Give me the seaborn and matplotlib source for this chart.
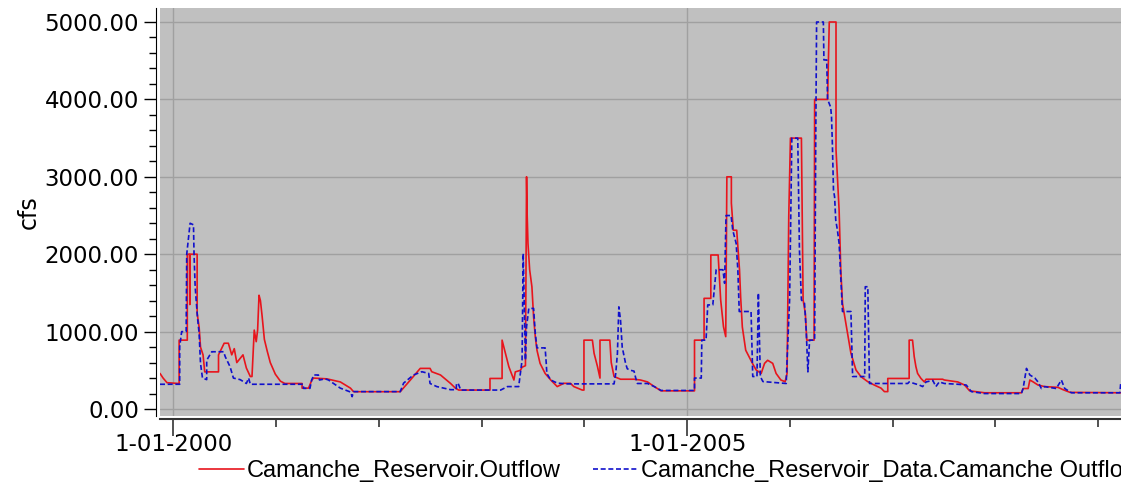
import matplotlib
matplotlib.use("Agg")
import matplotlib.pyplot as plt
import matplotlib.dates as mdates
from matplotlib.ticker import MultipleLocator, FuncFormatter
import seaborn as sns
import pandas as pd

# ---------------- data ----------------
series_names = ["Camanche_Reservoir.Outflow",
                "Camanche_Reservoir_Data.Camanche Outflow"]

red_outflow = [
    ("1999-11-15", 460), ("1999-11-26", 400), ("1999-12-10", 340), ("2000-01-22", 330),
    ("2000-01-22", 890), ("2000-02-20", 890), ("2000-02-20", 2000), ("2000-02-28", 2000),
    ("2000-02-29", 1350), ("2000-03-01", 2000), ("2000-03-26", 2000), ("2000-03-26", 1240),
    ("2000-04-02", 1060), ("2000-04-07", 800), ("2000-04-16", 700), ("2000-04-22", 480),
    ("2000-06-10", 480), ("2000-06-10", 700), ("2000-06-30", 850), ("2000-07-15", 850),
    ("2000-07-27", 700), ("2000-08-05", 780), ("2000-08-14", 600), ("2000-09-05", 700),
    ("2000-09-17", 530), ("2000-10-01", 420), ("2000-10-07", 420), ("2000-10-15", 1020),
    ("2000-10-22", 870), ("2000-10-27", 1020), ("2000-11-01", 1470), ("2000-11-06", 1400),
    ("2000-11-12", 1200), ("2000-11-20", 900), ("2000-11-30", 750), ("2000-12-11", 600),
    ("2000-12-29", 450), ("2001-01-16", 360), ("2001-02-01", 330), ("2001-04-03", 330),
    ("2001-04-03", 270), ("2001-04-26", 270), ("2001-05-08", 375), ("2001-05-14", 400),
    ("2001-06-30", 390), ("2001-08-17", 350), ("2001-09-22", 270), ("2001-10-03", 224),
    ("2002-03-18", 224), ("2002-04-23", 375), ("2002-05-28", 525), ("2002-07-02", 525),
    ("2002-07-08", 482), ("2002-08-08", 440), ("2002-09-13", 330), ("2002-09-30", 270),
    ("2002-10-12", 245), ("2003-01-31", 245), ("2003-01-31", 395), ("2003-03-15", 395),
    ("2003-03-15", 890), ("2003-03-27", 720), ("2003-04-08", 547), ("2003-04-26", 375),
    ("2003-05-01", 480), ("2003-05-19", 500), ("2003-05-25", 540), ("2003-06-06", 560),
    ("2003-06-10", 3000), ("2003-06-12", 2530), ("2003-06-15", 2140), ("2003-06-21", 1800),
    ("2003-06-29", 1580), ("2003-07-05", 1190), ("2003-07-11", 935), ("2003-07-17", 760),
    ("2003-07-28", 590), ("2003-08-15", 460), ("2003-09-04", 375), ("2003-09-27", 290),
    ("2003-10-20", 332), ("2003-11-13", 332), ("2003-11-25", 290), ("2003-12-25", 245),
    ("2003-12-31", 245), ("2003-12-31", 890), ("2004-01-30", 890), ("2004-02-05", 720),
    ("2004-02-17", 550), ("2004-02-26", 400), ("2004-02-26", 890), ("2004-04-01", 890),
    ("2004-04-06", 600), ("2004-04-16", 420), ("2004-05-09", 385), ("2004-06-26", 385),
    ("2004-07-19", 375), ("2004-08-13", 350), ("2004-09-06", 290), ("2004-09-30", 235),
    ("2005-01-27", 235), ("2005-01-27", 890), ("2005-03-02", 890), ("2005-03-02", 1430),
    ("2005-03-26", 1430), ("2005-03-26", 1990), ("2005-04-21", 1990), ("2005-04-30", 1410),
    ("2005-05-10", 1063), ("2005-05-18", 935), ("2005-05-22", 3000), ("2005-06-07", 3000),
    ("2005-06-07", 2660), ("2005-06-14", 2310), ("2005-06-26", 2310), ("2005-07-01", 2055),
    ("2005-07-06", 1796), ("2005-07-10", 1450), ("2005-07-16", 1060), ("2005-07-28", 760),
    ("2005-08-09", 676), ("2005-08-21", 590), ("2005-09-03", 505), ("2005-09-21", 460),
    ("2005-10-03", 590), ("2005-10-14", 630), ("2005-11-01", 590), ("2005-11-13", 460),
    ("2005-11-30", 375), ("2005-12-15", 353), ("2005-12-22", 460), ("2005-12-28", 2485),
    ("2006-01-03", 3500), ("2006-02-11", 3500), ("2006-02-17", 1410), ("2006-02-25", 1236),
    ("2006-03-02", 890), ("2006-03-28", 890), ("2006-03-30", 4000), ("2006-05-15", 4000),
    ("2006-05-21", 5000), ("2006-06-14", 5000), ("2006-06-14", 3350), ("2006-06-25", 2570),
    ("2006-07-01", 1796), ("2006-07-07", 1366), ("2006-07-19", 1107), ("2006-08-06", 720),
    ("2006-08-24", 504), ("2006-09-11", 417), ("2006-10-05", 353), ("2006-10-28", 310),
    ("2006-11-21", 270), ("2006-12-03", 225), ("2006-12-15", 225), ("2006-12-15", 395),
    ("2007-03-01", 395), ("2007-03-01", 890), ("2007-03-13", 890), ("2007-03-19", 676),
    ("2007-03-25", 547), ("2007-03-31", 460), ("2007-04-12", 395), ("2007-04-24", 350),
    ("2007-04-30", 385), ("2007-06-28", 385), ("2007-07-04", 375), ("2007-08-21", 350),
    ("2007-09-14", 310), ("2007-10-02", 235), ("2007-11-24", 210), ("2008-04-03", 210),
    ("2008-04-09", 265), ("2008-04-27", 265), ("2008-05-03", 375), ("2008-05-15", 350),
    ("2008-06-01", 310), ("2008-06-24", 290), ("2008-08-11", 280), ("2008-08-29", 250),
    ("2008-09-23", 215), ("2009-03-31", 210),
]

blue_observed = [
    ("1999-11-15", 320), ("2000-01-24", 320), ("2000-01-24", 805), ("2000-01-31", 1000),
    ("2000-02-16", 1000), ("2000-02-18", 2000), ("2000-03-01", 2400), ("2000-03-13", 2380),
    ("2000-03-15", 2000), ("2000-03-19", 1580), ("2000-03-27", 1192), ("2000-04-02", 978),
    ("2000-04-07", 590), ("2000-04-14", 400), ("2000-04-29", 380), ("2000-04-29", 630),
    ("2000-05-17", 740), ("2000-06-28", 740), ("2000-07-04", 676), ("2000-07-21", 547),
    ("2000-08-02", 400), ("2000-08-26", 380), ("2000-09-17", 330), ("2000-09-25", 400),
    ("2000-10-01", 320), ("2001-04-08", 320), ("2001-04-08", 267), ("2001-05-01", 267),
    ("2001-05-07", 375), ("2001-05-15", 440), ("2001-05-31", 440), ("2001-06-04", 375),
    ("2001-06-24", 390), ("2001-07-06", 375), ("2001-07-24", 330), ("2001-08-17", 270),
    ("2001-09-22", 220), ("2001-09-28", 160), ("2001-10-03", 225), ("2002-03-18", 225),
    ("2002-03-30", 335), ("2002-05-04", 440), ("2002-06-03", 482), ("2002-06-27", 460),
    ("2002-07-02", 330), ("2002-07-26", 290), ("2002-09-13", 250), ("2002-10-03", 250),
    ("2002-10-04", 330), ("2002-10-10", 330), ("2002-10-19", 245), ("2003-03-10", 245),
    ("2003-04-03", 290), ("2003-05-13", 290), ("2003-05-19", 460), ("2003-05-25", 630),
    ("2003-05-29", 2010), ("2003-06-02", 1322), ("2003-06-06", 630), ("2003-06-10", 1063),
    ("2003-06-18", 1300), ("2003-07-05", 1300), ("2003-07-11", 978), ("2003-07-17", 790),
    ("2003-08-15", 790), ("2003-08-19", 590), ("2003-08-21", 460), ("2003-09-04", 375),
    ("2003-09-27", 335), ("2003-11-02", 325), ("2004-04-16", 325), ("2004-04-22", 460),
    ("2004-04-28", 720), ("2004-05-03", 1320), ("2004-05-09", 1150), ("2004-05-15", 800),
    ("2004-05-27", 590), ("2004-06-02", 520), ("2004-06-14", 500), ("2004-06-26", 490),
    ("2004-07-02", 400), ("2004-07-08", 330), ("2004-08-13", 330), ("2004-09-06", 290),
    ("2004-09-30", 240), ("2005-01-27", 240), ("2005-01-27", 400), ("2005-02-20", 400),
    ("2005-02-22", 890), ("2005-03-09", 890), ("2005-03-15", 1345), ("2005-04-02", 1345),
    ("2005-04-14", 1800), ("2005-05-08", 1800), ("2005-05-14", 1624), ("2005-05-19", 2500),
    ("2005-06-06", 2500), ("2005-06-12", 2310), ("2005-06-24", 2140), ("2005-06-30", 1800),
    ("2005-07-05", 1260), ("2005-08-16", 1260), ("2005-08-22", 420), ("2005-09-06", 420),
    ("2005-09-11", 1500), ("2005-09-18", 420), ("2005-09-27", 355), ("2005-12-19", 330),
    ("2005-12-22", 633), ("2005-12-31", 1410), ("2006-01-08", 3500), ("2006-01-29", 3500),
    ("2006-02-04", 2055), ("2006-02-11", 1410), ("2006-02-22", 1366), ("2006-02-28", 1020),
    ("2006-03-06", 480), ("2006-03-12", 890), ("2006-03-30", 890), ("2006-04-03", 3520),
    ("2006-04-06", 5000), ("2006-04-30", 5000), ("2006-05-02", 4510), ("2006-05-12", 4510),
    ("2006-05-15", 4000), ("2006-05-26", 3900), ("2006-05-29", 3776), ("2006-06-01", 3433),
    ("2006-06-05", 2830), ("2006-06-09", 2740), ("2006-06-13", 2442), ("2006-06-19", 2310),
    ("2006-06-25", 2140), ("2006-07-01", 1710), ("2006-07-07", 1260), ("2006-08-06", 1260),
    ("2006-08-12", 420), ("2006-09-24", 420), ("2006-09-26", 1580), ("2006-10-05", 1580),
    ("2006-10-11", 330), ("2007-02-24", 330), ("2007-03-01", 350), ("2007-03-19", 330),
    ("2007-04-06", 310), ("2007-04-18", 290), ("2007-04-30", 350), ("2007-05-24", 370),
    ("2007-06-04", 290), ("2007-06-16", 350), ("2007-07-04", 330), ("2007-08-21", 320),
    ("2007-09-20", 310), ("2007-10-08", 225), ("2007-11-24", 200), ("2008-04-03", 200),
    ("2008-04-09", 265), ("2008-04-21", 525), ("2008-05-03", 440), ("2008-05-21", 400),
    ("2008-06-01", 350), ("2008-06-13", 265), ("2008-06-24", 290), ("2008-08-05", 265),
    ("2008-08-23", 375), ("2008-09-04", 265), ("2008-09-28", 210), ("2009-03-19", 210),
    ("2009-03-22", 330), ("2009-03-31", 330),
]

x_limits = ("1999-11-15", "2009-03-31")
y_ticks = [0, 1000, 2000, 3000, 4000, 5000]

# ---------------- style ----------------
sns.set_style("ticks", {"text.color": "black", "xtick.color": "black",
                        "ytick.color": "black", "axes.labelcolor": "black"})
plt.rcParams["font.family"] = ["DejaVu Sans"]

DPI = 100
fig = plt.figure(figsize=(1121 / DPI, 492 / DPI), dpi=DPI)
ax = fig.add_axes([160 / 1121, 1 - 416 / 492, 1 - 160 / 1121 + 0.002, (416 - 8) / 492])
ax.set_facecolor("#C0C0C0")

def to_frame(pairs):
    df = pd.DataFrame(pairs, columns=["date", "cfs"])
    df["date"] = pd.to_datetime(df["date"])
    return df

red_df = to_frame(red_outflow)
blue_df = to_frame(blue_observed)

sns.lineplot(data=red_df, x="date", y="cfs", ax=ax, estimator=None, sort=False,
             color="#E8141C", linewidth=1.2, label=series_names[0], zorder=3)
sns.lineplot(data=blue_df, x="date", y="cfs", ax=ax, estimator=None, sort=False,
             color="#1010CC", linewidth=1.2, dashes=False, label=series_names[1], zorder=4)
blue_line = ax.get_lines()[-1]
blue_line.set_linestyle((0, (3, 1.6)))

ax.set_xlim(pd.Timestamp(x_limits[0]), pd.Timestamp(x_limits[1]))
ax.set_ylim(-90, 5181)

# axes ticks
ax.set_yticks(y_ticks)
ax.yaxis.set_minor_locator(MultipleLocator(200))
ax.yaxis.set_major_formatter(FuncFormatter(lambda v, p: f"{v:.2f}"))
ax.xaxis.set_major_locator(mdates.YearLocator(5))
ax.xaxis.set_minor_locator(mdates.YearLocator(1))
ax.xaxis.set_major_formatter(FuncFormatter(
    lambda v, p: (lambda d: f"{d.month}-{d.day:02d}-{d.year}")(mdates.num2date(v))))

ax.tick_params(axis="y", which="major", length=9, width=1, labelsize=16.5, pad=3,
               color="black", labelcolor="black")
ax.tick_params(axis="y", which="minor", length=5, width=1, color="black")
ax.tick_params(axis="x", which="major", length=12, width=1.2, labelsize=16.5, pad=-2,
               color="#333333", labelcolor="black")
ax.tick_params(axis="x", which="minor", length=6, width=1.2, color="#333333")

ax.grid(True, which="major", axis="both", color="#A0A0A0", linewidth=1)
ax.set_axisbelow(True)

for s in ["top", "right"]:
    ax.spines[s].set_visible(False)
ax.spines["left"].set_position(("outward", 3))
ax.spines["bottom"].set_position(("outward", 2))
ax.spines["left"].set_color("black")
ax.spines["bottom"].set_color("#333333")
ax.spines["bottom"].set_linewidth(1.5)

ax.set_xlabel("")
ax.set_ylabel("cfs", fontsize=17, color="black")
ax.yaxis.set_label_coords(-119 / (1121 - 160), 0.5)

# legend below, spanning past the right edge
handles, labels = ax.get_legend_handles_labels()
ax.get_legend().remove()
leg_fs = 17
px_per_em = leg_fs * DPI / 72
fig.legend(handles, labels, loc="center left", bbox_to_anchor=(199 / 1121, 1 - 471 / 492),
           ncol=2, frameon=False, borderpad=0, borderaxespad=0,
           handlelength=45 / px_per_em, handletextpad=3 / px_per_em,
           columnspacing=32 / px_per_em, labelcolor="black",
           prop={"family": "Liberation Sans", "size": leg_fs})

fig.savefig("out.png", dpi=DPI)
